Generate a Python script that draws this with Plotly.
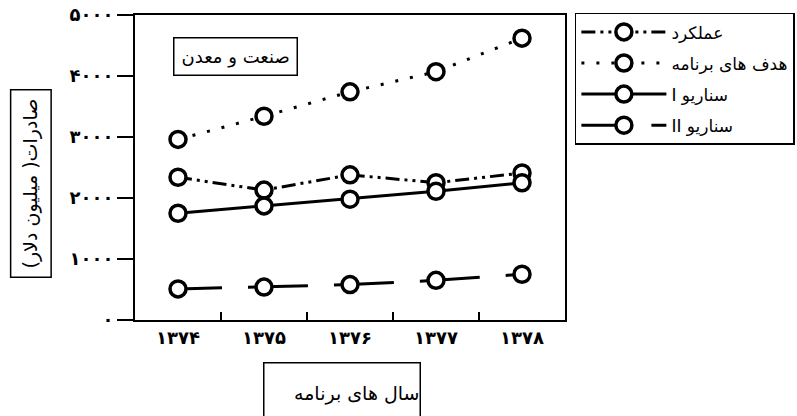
import plotly.graph_objects as go

years = ["۱۳۷۴", "۱۳۷۵", "۱۳۷۶", "۱۳۷۷", "۱۳۷۸"]
actual = [2340, 2130, 2380, 2250, 2410]          # عملکرد
target = [2960, 3340, 3740, 4070, 4620]          # هدف های برنامه
scenario1 = [1750, 1870, 1980, 2110, 2250]       # سناریو I
scenario2 = [510, 540, 580, 650, 750]            # سناریو II

y_tickvals = [0, 1000, 2000, 3000, 4000, 5000]
y_ticktext = ["۰", "۱۰۰۰", "۲۰۰۰", "۳۰۰۰", "۴۰۰۰", "۵۰۰۰"]

names = ["عملکرد", "هدف های برنامه", "\u202bسناریو I\u202c", "\u202bسناریو II\u202c"]
series = [actual, target, scenario1, scenario2]
dashes = ["14px,5px,3px,5px,3px,5px", "3px,12px", "solid",
          "44px,26px,60px,26px,60px,26px,60px,26px,60px,26px"]

FONT = "DejaVu Sans"
fig = go.Figure()
for i, (name, vals, dash) in enumerate(zip(names, series, dashes)):
    fig.add_trace(go.Scatter(
        x=years, y=vals, name=name, mode="lines+markers", legendgroup=f"g{i}",
        line=dict(color="black", width=3, dash=dash),
        marker=dict(symbol="circle", size=16, color="white",
                    line=dict(color="black", width=3.5)),
    ))

fig.update_layout(
    width=797, height=416,
    margin=dict(l=135, r=232, t=15, b=96, autoexpand=False),
    paper_bgcolor="white", plot_bgcolor="white",
    font=dict(family=FONT, color="black"),
    showlegend=True,
    legend=dict(x=1.023, y=1.007, xanchor="left", yanchor="top",
                bordercolor="black", borderwidth=1.5, bgcolor="white",
                font=dict(size=17, family=FONT), itemwidth=85,
                tracegroupgap=6),
    xaxis=dict(type="category", range=[-0.5, 4.5], showline=True,
               linecolor="black", linewidth=2, mirror=True,
               ticks="inside", tickson="boundaries", ticklen=8,
               tickcolor="black", tickwidth=1.5, showgrid=False,
               tickfont=dict(size=18, family=FONT, weight="bold")),
    yaxis=dict(range=[0, 5000], tickvals=y_tickvals, ticktext=y_ticktext,
               showline=True, linecolor="black", linewidth=2, mirror=True,
               ticks="outside", ticklen=16, tickcolor="black", tickwidth=1.5,
               showgrid=False, zeroline=False,
               tickfont=dict(size=18, family=FONT, weight="bold")),
)

fig.add_annotation(
    text="صنعت و معدن", xref="paper", yref="paper", x=0.2326, y=0.865,
    xanchor="center", yanchor="middle",
    showarrow=False, font=dict(size=18, family=FONT),
    bordercolor="black", borderwidth=1.5, borderpad=7, bgcolor="white",
)
fig.add_annotation(
    text="صادرات( میلیون دلار)", xref="paper", yref="paper", x=-0.242, y=0.449,
    xanchor="center", yanchor="middle",
    textangle=-90, showarrow=False, font=dict(size=19, family=FONT),
    bordercolor="black", borderwidth=1.5, borderpad=8,
)
fig.add_annotation(
    text="سال های برنامه", xref="paper", yref="paper",
    x=(263 - 135) / 430, y=(320 - 362) / 305, xanchor="left", yanchor="top",
    width=155, height=60, align="right", valign="middle",
    showarrow=False, font=dict(size=19, family=FONT),
    bordercolor="black", borderwidth=1.5, borderpad=0,
)

fig.write_html("out.html", config={"displayModeBar": False},
               post_script="document.body.style.margin='0';")
